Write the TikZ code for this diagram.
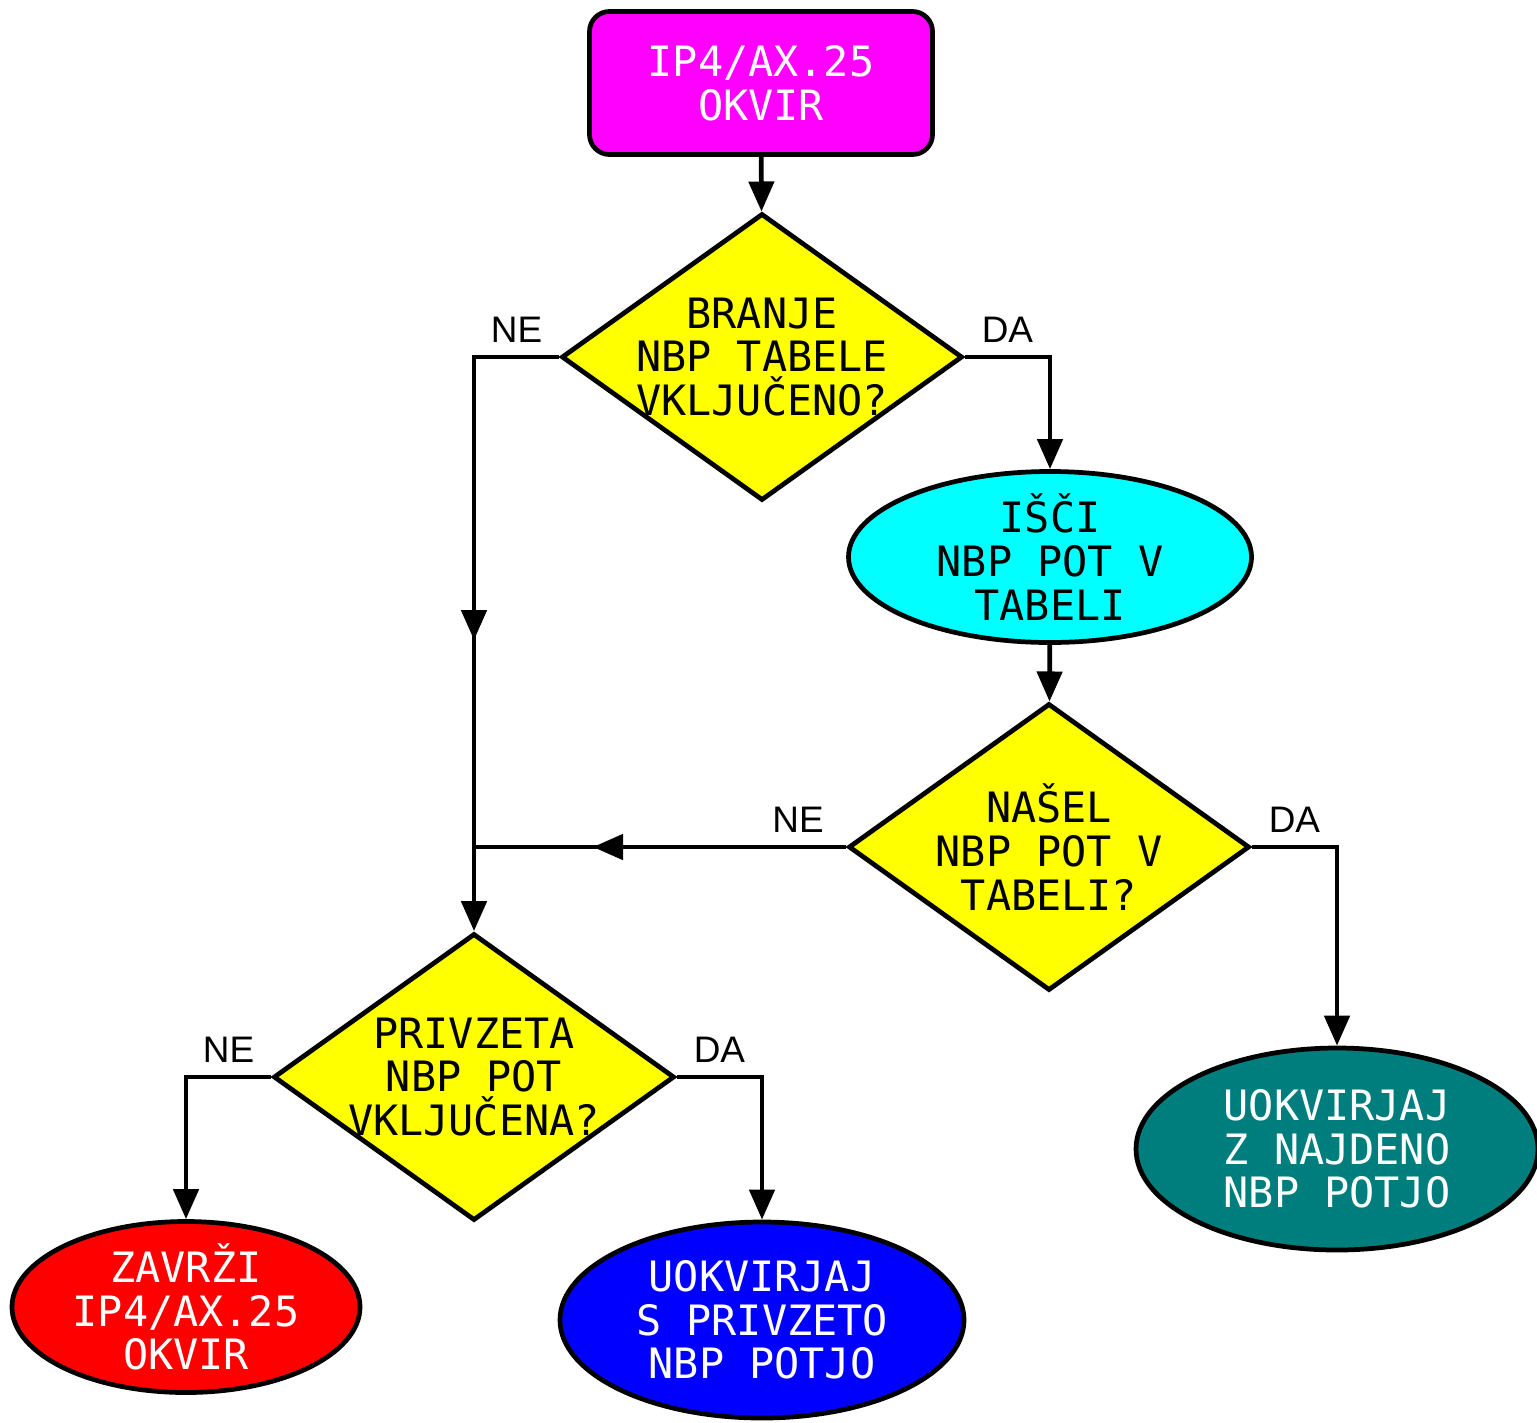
\documentclass[tikz,border=0pt]{standalone}
\usepackage{fontspec}
\setmainfont{Liberation Sans}
\newfontfamily\boxfont{DejaVu Sans Mono}
\usepackage{xcolor}
\usepackage{tikz}
\usetikzlibrary{shapes.geometric, arrows.meta}

\definecolor{startbox}{RGB}{255,0,255}
\definecolor{askbox}{RGB}{255,255,0}
\definecolor{searchbox}{RGB}{0,255,255}
\definecolor{foundbox}{RGB}{0,125,125}
\definecolor{dropbox}{RGB}{255,0,0}
\definecolor{keepbox}{RGB}{0,0,255}

\begin{document}
\begin{tikzpicture}[line width=1.35pt, >={Triangle[length=0.3cm, width=0.25cm]},
    boxtext/.style={font=\boxfont\fontsize{11.9}{12.4}\selectfont, align=center},
    branch/.style={font=\fontsize{10.5}{12}\selectfont},
    decision/.style={draw, diamond, fill=askbox, minimum width=4.01cm, minimum height=2.87cm, inner sep=0pt},
    action/.style={draw, ellipse, inner sep=0pt}]
            \useasboundingbox (0,0) rectangle (15.37,14.22);

            % Start frame
            \node[draw, rectangle, rounded corners=0.2cm, fill=startbox, minimum width=3.43cm, minimum height=1.43cm,
                label={[boxtext, text=white]center:IP4/AX.25\\OKVIR}] (start) at (7.61,13.39) {};

            % Decisions
            \node[decision, label={[boxtext]center:BRANJE\\NBP TABELE\\VKLJUČENO?}] (d1) at (7.62,10.65) {};
            \node[decision, label={[boxtext]center:NAŠEL\\NBP POT V\\TABELI?}] (d2) at (10.49,5.75) {};
            \node[decision, label={[boxtext]center:PRIVZETA\\NBP POT\\VKLJUČENA?}] (d3) at (4.74,3.45) {};

            % Actions
            \node[action, fill=searchbox, minimum width=4.03cm, minimum height=1.71cm,
                label={[boxtext]center:IŠČI\\NBP POT V\\TABELI}] (search) at (10.50,8.65) {};
            \node[action, fill=foundbox, minimum width=4.02cm, minimum height=2.02cm,
                label={[boxtext, text=white]center:UOKVIRJAJ\\Z NAJDENO\\NBP POTJO}] (found) at (13.37,2.73) {};
            \node[action, fill=dropbox, minimum width=3.48cm, minimum height=1.71cm,
                label={[boxtext, text=white]center:ZAVRŽI\\IP4/AX.25\\OKVIR}] (drop) at (1.86,1.15) {};
            \node[action, fill=keepbox, minimum width=4.04cm, minimum height=1.96cm,
                label={[boxtext, text=white]center:UOKVIRJAJ\\S PRIVZETO\\NBP POTJO}] (keep) at (7.62,1.02) {};

            % Helper points on the left line
            \coordinate (corner1) at (4.74,10.65);
            \coordinate (mid1) at (4.74,7.82);
            \coordinate (mid2) at (5.93,5.75);
            \coordinate (join) at (4.74,5.75);

            % Flows
            \draw[->] (start) -- (d1);
            \draw[->] (d1.west) -| node[pos=0.25, above, branch] {NE} (d3.north);
            \draw[->] (corner1) -- (mid1);
            \draw[->] (d1.east) -| node[pos=0.25, above, branch] {DA} (search.north);
            \draw[->] (search) -- (d2);
            \draw (d2.west) -- (join);
            \draw[->] (d2.west) -- node[pos=0.19, above, branch] {NE} (mid2);
            \draw[->] (d2.east) -| node[pos=0.25, above, branch] {DA} (found.north);
            \draw[->] (d3.west) -| node[pos=0.25, above, branch] {NE} (drop.north);
            \draw[->] (d3.east) -| node[pos=0.25, above, branch] {DA} (keep.north);
        \end{tikzpicture}
\end{document}
